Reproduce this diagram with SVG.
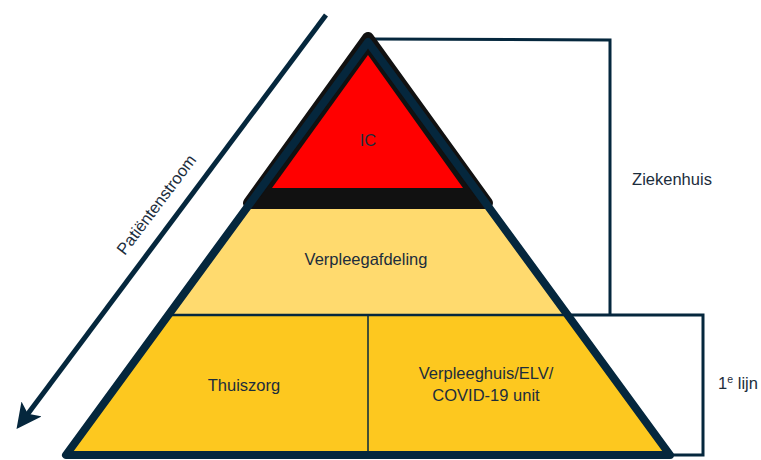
<svg xmlns="http://www.w3.org/2000/svg" width="761" height="460" viewBox="0 0 761 460">
<defs>
<style>
.t{font-family:"Liberation Sans",Arial,sans-serif;font-size:16.5px;fill:#1c2d3c;text-anchor:middle}
.nv{stroke:#05273d;fill:none}
</style>
<marker id="ah" markerWidth="5" markerHeight="5" refX="2.5" refY="2.5" orient="auto" markerUnits="strokeWidth">
<path d="M0,0 L5,2.5 L0,5 L1.2,2.5 Z" fill="#05273d"/>
</marker>
</defs>
<rect width="761" height="460" fill="#ffffff"/>
<g id="connectors">
<line class="nv" x1="326" y1="15" x2="24" y2="419" stroke-width="5" marker-end="url(#ah)"/>
<polyline class="nv" points="372,39 610,40 610,315" stroke-width="3"/>
<polyline class="nv" points="560,315 703,315 703,455 668,455" stroke-width="3"/>
</g>
<g id="bottom">
<polygon points="168,315 568,315 670,455 66,455" fill="#fdc81f"/>
<line class="nv" x1="368" y1="315" x2="368" y2="455" stroke-width="1.5"/>
<text class="t" x="244" y="391">Thuiszorg</text>
<text class="t" x="486" y="379">Verpleeghuis/ELV/</text>
<text class="t" x="486" y="401">COVID-19 unit</text>
</g>
<g id="middle">
<polygon points="247,206 489,206 568,315 168,315" fill="#ffda6e"/>
<line class="nv" x1="168" y1="315" x2="568" y2="315" stroke-width="2.5"/>
<text class="t" x="366" y="265">Verpleegafdeling</text>
</g>
<g id="ic">
<polygon points="368,38 249,203 487,203" fill="#111111" stroke="#111111" stroke-width="12" stroke-linejoin="round"/>
<polygon points="368,55 272,188 463,188" fill="#ff0000"/>
<text class="t" x="368" y="146">IC</text>
</g>
<g id="outline">
<polygon class="nv" points="368,42 66,455 670,455" stroke-width="8" stroke-linejoin="round"/>
</g>
<g id="labels">
<text class="t" x="672" y="185">Ziekenhuis</text>
<text class="t" x="738" y="389">1<tspan font-size="10.5" dy="-6">e</tspan><tspan dy="6"> lijn</tspan></text>
<text class="t" transform="translate(157,205) rotate(-53)" y="5">Patiëntenstroom</text>
</g>
</svg>
